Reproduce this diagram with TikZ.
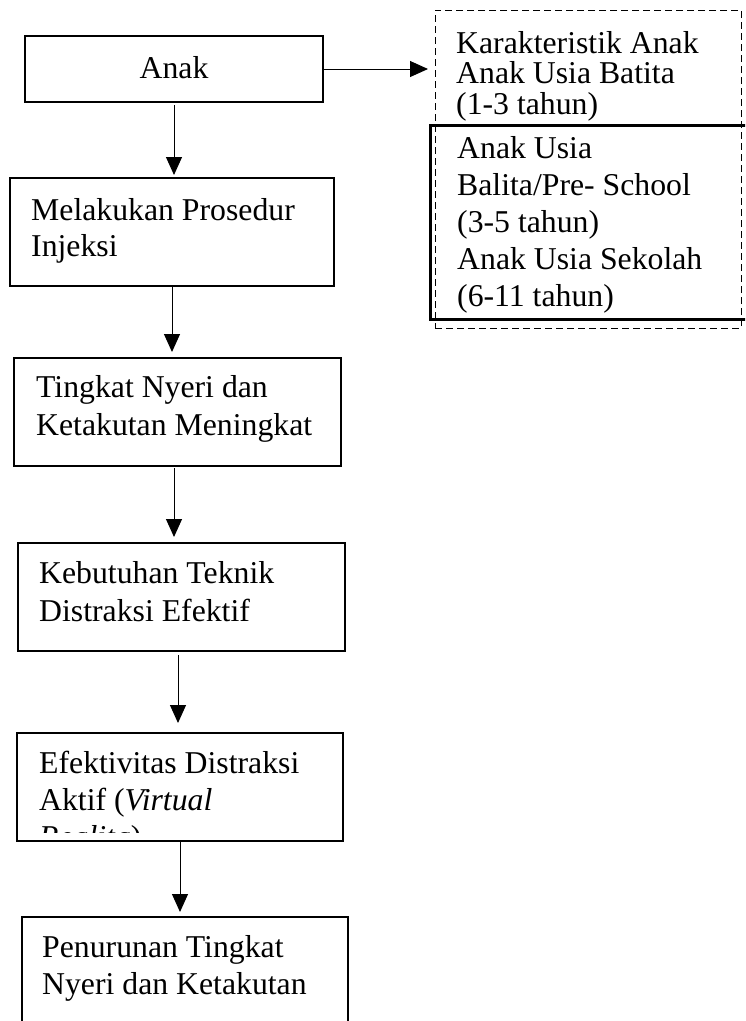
\documentclass[tikz,border=0pt]{standalone}
\usepackage{fontspec}
\setmainfont{Liberation Serif}
\usetikzlibrary{arrows.meta}
\begin{document}
\begin{tikzpicture}[x=1pt,y=-1pt,
  box/.style={draw, line width=1.3pt, rectangle, anchor=north west, inner sep=0pt, outer sep=0pt},
  txt/.style={anchor=base west, align=left, inner sep=0pt, font=\fontsize{31.75pt}{37pt}\selectfont},
  arr/.style={line width=1pt, -{Triangle[length=18pt,width=16pt]}}]
\useasboundingbox (0,0) rectangle (745,1021);
\clip (0,0) rectangle (745,1021);
% left column boxes
\node[box, minimum width=298pt, minimum height=66pt] (anak) at (25,36) {};
\node[box, minimum width=324pt, minimum height=108pt] (melak) at (10,178) {};
\node[box, minimum width=327pt, minimum height=108pt] (tingkat) at (14,358) {};
\node[box, minimum width=327pt, minimum height=108pt] (kebut) at (18,543) {};
\node[box, minimum width=326pt, minimum height=108pt] (efek) at (17,733) {};
\node[box, minimum width=326pt, minimum height=150pt] (penur) at (22,917) {};
% right boxes
\node[box, line width=1pt, dash pattern=on 7pt off 4pt, minimum width=306pt, minimum height=318pt] (dash) at (435,10) {};
\node[box, line width=3pt, minimum width=330pt, minimum height=194pt] (solid) at (430,125) {};
% texts (anchored at the baseline of the last line)
\node[txt, anchor=base] (tanak) at (174,78) {Anak};
\node[txt, font=\fontsize{31.75pt}{36pt}\selectfont] (tmelak) at (31,256) {Melakukan Prosedur\\Injeksi};
\node[txt, font=\fontsize{31.75pt}{38.5pt}\selectfont] (ttingkat) at (36,435.5) {Tingkat Nyeri dan\\Ketakutan Meningkat};
\node[txt, font=\fontsize{31.75pt}{38pt}\selectfont] (tkebut) at (39,621) {Kebutuhan Teknik\\Distraksi Efektif};
\begin{scope}
\clip (efek.north west) rectangle ([yshift=9pt]efek.south east);
\node[txt, font=\fontsize{31.75pt}{37pt}\selectfont] (tefek) at (39,847) {Efektivitas Distraksi\\Aktif (\textit{Virtual}\\\textit{Realita})};
\end{scope}
\node[txt, font=\fontsize{31.75pt}{37pt}\selectfont] (tpenur) at (42,994) {Penurunan Tingkat\\Nyeri dan Ketakutan};
\node[txt, font=\fontsize{31.75pt}{30.5pt}\selectfont] (tkar) at (456,114) {Karakteristik Anak\\Anak Usia Batita\\(1-3 tahun)};
\node[txt, font=\fontsize{31.75pt}{37.2pt}\selectfont] (tusia) at (457,306.8) {Anak Usia\\Balita/Pre- School\\(3-5 tahun)\\Anak Usia Sekolah\\(6-11 tahun)};
% connectors
\draw[arr, shorten <=3pt, shorten >=3pt] (anak.south) -- (melak.north -| anak.south);
\draw[arr, shorten >=6pt] (melak.south) -- (tingkat.north -| melak.south);
\draw[arr, shorten <=2pt, shorten >=6pt] ([xshift=-3.5pt]tingkat.south) -- ([xshift=-3.5pt]tingkat.south |- kebut.north);
\draw[arr, shorten <=4pt, shorten >=10pt] ([xshift=-3.5pt]kebut.south) -- ([xshift=-3.5pt]kebut.south |- efek.north);
\draw[arr, shorten >=5pt] (efek.south) -- (efek.south |- penur.north);
\draw[arr, shorten >=7pt] (anak.east) -- (dash.west |- anak.east);
\end{tikzpicture}
\end{document}
